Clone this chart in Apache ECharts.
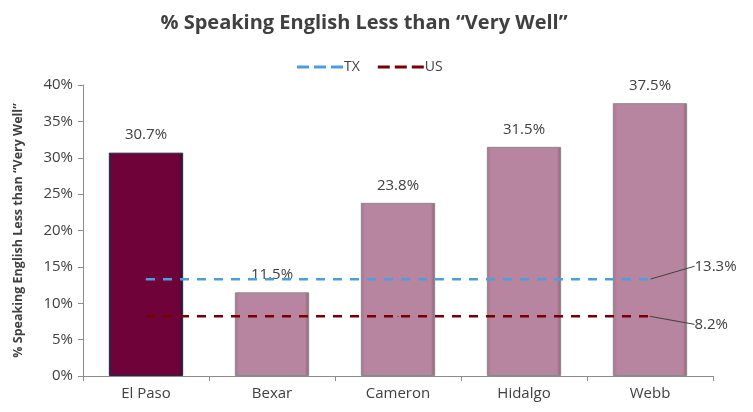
<!DOCTYPE html>
<html>
<head>
<meta charset="utf-8">
<script src="https://cdn.jsdelivr.net/npm/echarts@6/dist/echarts.min.js"></script>
<style>
  html, body { margin: 0; padding: 0; background: #fff; }
  #chart { width: 753px; height: 412px; }
</style>
</head>
<body>
<div id="chart"></div>
<script>
// Counties compared and their share of residents speaking English less than "very well"
const counties = ['El Paso', 'Bexar', 'Cameron', 'Hidalgo', 'Webb'];
const countyShare = [30.7, 11.5, 23.8, 31.5, 37.5];
// State and national reference levels
const txShare = [13.3, 13.3, 13.3, 13.3, 13.3];
const usShare = [8.2, 8.2, 8.2, 8.2, 8.2];
const yTicks = [0, 5, 10, 15, 20, 25, 30, 35, 40];

const FONT = '"Open Sans", sans-serif';
const TEXT = '#404040';
// three short dashes used as the legend key for the reference lines
const DASH_ICON = 'path://M0,0h12v3h-12z M17,0h12v3h-12z M34,0h12v3h-12z';

function barStyle(i) {
  if (i === 0) {
    return {
      color: {
        type: 'linear', x: 0, y: 0, x2: 1, y2: 0,
        colorStops: [
          { offset: 0, color: '#3a1a45' },
          { offset: 0.06, color: '#6e0239' },
          { offset: 0.94, color: '#6e0239' },
          { offset: 1, color: '#2a1535' }
        ]
      },
      borderColor: '#1e2a48',
      borderWidth: 1
    };
  }
  return {
    color: {
      type: 'linear', x: 0, y: 0, x2: 1, y2: 0,
      colorStops: [
        { offset: 0, color: '#a87590' },
        { offset: 0.06, color: '#b7859f' },
        { offset: 0.94, color: '#b7859f' },
        { offset: 1, color: '#8d6277' }
      ]
    },
    borderColor: '#8a8a8a',
    borderWidth: 1
  };
}

function refLine(name, values, color, dy) {
  const last = values.length - 1;
  return {
    name: name,
    type: 'line',
    symbol: 'circle',
    symbolSize: 1,
    showAllSymbol: true,
    data: values.map((v, i) => i === last
      ? { value: v, label: { show: true }, labelLine: { show: true } }
      : v),
    lineStyle: { color: color, width: 2.5, type: [9, 8] },
    itemStyle: { color: color },
    label: {
      show: false,
      position: 'right',
      distance: 0,
      formatter: p => p.value.toFixed(1) + '%',
      fontFamily: FONT,
      fontSize: 15,
      color: TEXT,
      padding: [0, 0, 0, 4]
    },
    labelLayout: { dx: 40, dy: dy },
    labelLine: { show: false, lineStyle: { color: '#404040', width: 1 } },
    z: 3
  };
}

const chart = echarts.init(document.getElementById('chart'));
chart.setOption({
  animation: false,
  title: {
    text: '% Speaking English Less than \u201cVery Well\u201d',
    left: 359,
    textAlign: 'center',
    top: 8,
    textStyle: { fontFamily: FONT, fontSize: 20, fontWeight: 'bold', color: TEXT }
  },
  legend: {
    top: 55,
    left: 292,
    itemWidth: 46,
    itemHeight: 3,
    itemGap: 18,
    data: [
      { name: 'TX', icon: DASH_ICON, itemStyle: { color: '#4a9fdc' } },
      { name: 'US', icon: DASH_ICON, itemStyle: { color: '#7a0000' } }
    ],
    textStyle: { fontFamily: FONT, fontSize: 14, color: TEXT, padding: [0, 0, 0, -4] }
  },
  grid: { left: 83, right: 40, top: 85, bottom: 36 },
  xAxis: {
    type: 'category',
    data: counties,
    axisLine: { lineStyle: { color: '#8c8c8c' } },
    axisTick: { show: true, length: 5, lineStyle: { color: '#8c8c8c' } },
    axisLabel: { fontFamily: FONT, fontSize: 15, color: TEXT, margin: 10 }
  },
  yAxis: {
    type: 'value',
    min: yTicks[0],
    max: yTicks[yTicks.length - 1],
    interval: 5,
    name: '% Speaking English Less than \u201cVery Well\u201d',
    nameLocation: 'middle',
    nameGap: 58,
    nameTextStyle: { fontFamily: FONT, fontSize: 12.5, fontWeight: 'bold', color: TEXT },
    axisLine: { show: true, lineStyle: { color: '#8c8c8c' } },
    axisTick: { show: true, length: 5, lineStyle: { color: '#8c8c8c' } },
    splitLine: { show: false },
    axisLabel: { fontFamily: FONT, fontSize: 15, color: TEXT, margin: 10, formatter: v => v + '%' }
  },
  series: [
    {
      name: 'County',
      type: 'bar',
      barWidth: '59%',
      data: countyShare.map((v, i) => ({ value: v, itemStyle: barStyle(i) })),
      label: {
        show: true,
        position: 'top',
        distance: 10,
        formatter: p => p.value.toFixed(1) + '%',
        fontFamily: FONT,
        fontSize: 15,
        color: TEXT
      },
      z: 2
    },
    refLine('TX', txShare, '#4a9fdc', -13),
    refLine('US', usShare, '#7a0000', 8)
  ]
});
</script>
</body>
</html>
